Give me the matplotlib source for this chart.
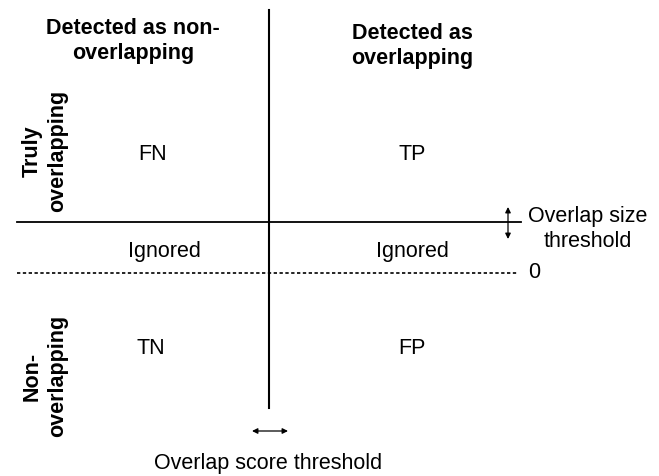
import matplotlib.pyplot as plt

# layout of the diagram, in pixels of the 659x476 picture
W, H = 659, 476
x_split = 269          # overlap score threshold
y_size = 222           # overlap size threshold
y_zero = 273           # zero line

col_heads = ["Detected as non-\noverlapping", "Detected as\noverlapping"]
row_heads = ["Truly\noverlapping", "Non-\noverlapping"]
cells = [["FN", "TP"], ["Ignored", "Ignored"], ["TN", "FP"]]

plt.rcParams['font.family'] = ['Liberation Sans', 'DejaVu Sans']

fig = plt.figure(figsize=(W / 100, H / 100), dpi=100)
ax = fig.add_axes([0, 0, 1, 1])
ax.set_xlim(0, W)
ax.set_ylim(H, 0)
ax.axis('off')

ax.plot([x_split, x_split], [10, 408], color='black', lw=1.5)
ax.plot([17, 521], [y_size, y_size], color='black', lw=1.3)
ax.plot([17, 518], [y_zero, y_zero], color='black', lw=1.2, ls=(0, (2, 1.5)))

# little double arrows
arr = dict(arrowstyle='<|-|>', color='black', lw=0.9,
           mutation_scale=8, shrinkA=0, shrinkB=0)
ax.annotate('', xy=(508, 207), xytext=(508, 239), arrowprops=arr)
ax.annotate('', xy=(252, 431), xytext=(288, 431), arrowprops=arr)

fs = 15.5
ax.text(133, 41, col_heads[0], ha='center', va='center', fontsize=fs,
        fontweight='bold', linespacing=1.25)
ax.text(412, 46, col_heads[1], ha='center', va='center', fontsize=fs,
        fontweight='bold', linespacing=1.25)
ax.text(45, 151, row_heads[0], ha='center', va='center', fontsize=fs,
        fontweight='bold', rotation=90, linespacing=1.3)
ax.text(45, 376, row_heads[1], ha='center', va='center', fontsize=fs,
        fontweight='bold', rotation=90, linespacing=1.3)

cell_x = [[153, 412], [164, 412], [151, 412]]
cell_y = [155, 252, 349]
for i, row in enumerate(cells):
    for j, lab in enumerate(row):
        ax.text(cell_x[i][j], cell_y[i], lab, ha='center', va='center', fontsize=fs)

ax.text(588, 229, "Overlap size\nthreshold", ha='center', va='center',
        fontsize=fs, linespacing=1.2)
ax.text(528, 273, "0", ha='left', va='center', fontsize=fs)
ax.text(268, 463, "Overlap score threshold", ha='center', va='center', fontsize=fs)

fig.savefig('out.png', dpi=100)
